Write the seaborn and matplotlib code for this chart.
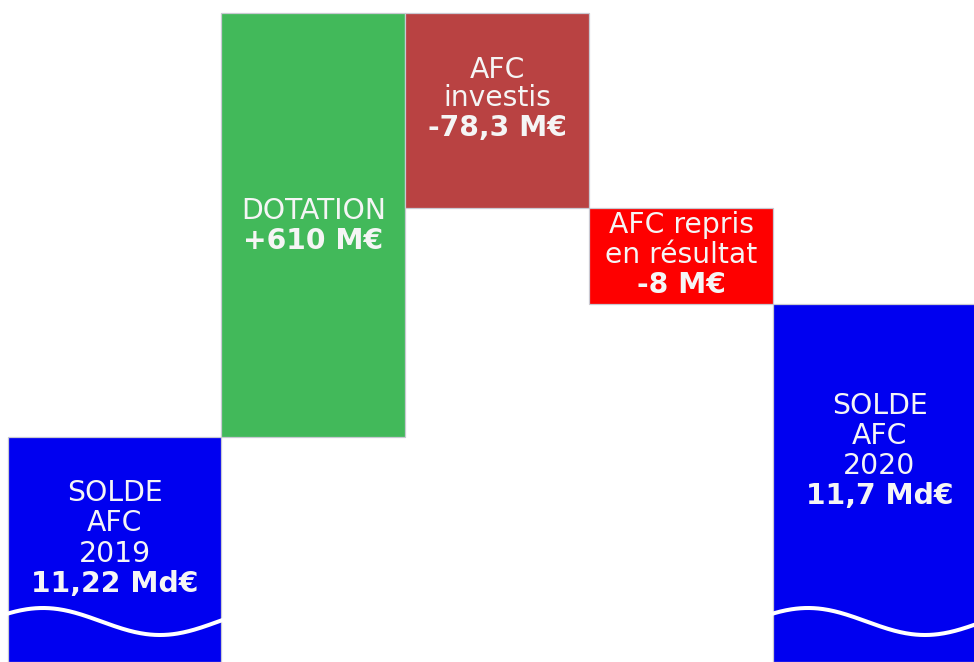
import numpy as np
import pandas as pd
import matplotlib
matplotlib.use("Agg")
import matplotlib.pyplot as plt
import matplotlib.transforms as mtransforms
import seaborn as sns

# AFC fund movements between 2019 and 2020, amounts in millions of euros
steps = ["SOLDE\nAFC\n2019", "DOTATION", "AFC\ninvestis", "AFC repris\nen résultat", "SOLDE\nAFC\n2020"]
opening_balance = 11220.0
movements = [610.0, -78.3, -8.0]
bar_colors = ["#0000F0", "#42B95A", "#B94242", "#FE0000", "#0000F0"]

# Running levels of the waterfall
levels = np.concatenate([[opening_balance], opening_balance + np.cumsum(movements)])
closing_balance = levels[-1]
bottoms = [0.0, *np.minimum(levels[:-1], levels[1:]), 0.0]
heights = [opening_balance, *np.abs(movements), closing_balance]


def fr(num):
    return num.replace(".", ",")


value_labels = (
    [fr(f"{opening_balance / 1000:.2f}") + " Md€"]
    + [fr(f"{m:+g}") + " M€" for m in movements]
    + [fr(f"{closing_balance / 1000:.1f}") + " Md€"]
)

# ---------------------------------------------------------------- figure
W, H = 974, 662
sns.set_theme(style="white")
plt.rcParams["font.family"] = ["DejaVu Sans"]
fig = plt.figure(figsize=(W / 100, H / 100), dpi=100)
fig.patch.set_facecolor("white")
ax = fig.add_axes([0, 0, 1, 1])

df = pd.DataFrame({"step": steps, "amount": heights})
sns.barplot(
    data=df, x="step", y="amount", bottom=bottoms, width=1.0,
    errorbar=None, color=bar_colors[0], edgecolor="#C9C9D2",
    linewidth=0.9, ax=ax,
)
for patch, c in zip(ax.patches, bar_colors):
    patch.set_facecolor(c)

# The two balances are drawn wider than the movement bars
first, last = ax.patches[0], ax.patches[-1]
first.set_x(-0.658)
first.set_width(0.5 + 0.658)
last.set_width(1.152)

# Broken, non-proportional value axis: piecewise-linear between the levels
knot_values = np.array([0.0, opening_balance, closing_balance, levels[2], levels.max()])
knot_rows = np.array([662.0, 437.0, 304.0, 208.0, 13.0])
slope = (knot_values[-1] - knot_values[-2]) / (knot_rows[-2] - knot_rows[-1])
top_value = knot_values[-1] + slope * knot_rows[-1]
knot_values = np.append(knot_values, top_value)
knot_frac = 1.0 - np.append(knot_rows, 0.0) / H


def forward(v):
    return np.interp(np.asarray(v, dtype=float), knot_values, knot_frac)


def inverse(f):
    return np.interp(np.asarray(f, dtype=float), knot_frac, knot_values)


ax.set_yscale("function", functions=(forward, inverse))
ax.set_ylim(0.0, top_value)
ax.set_xlim(-0.7038, 4.5897)
ax.set_axis_off()

# Wavy break marks on the two balance bars
blend = mtransforms.blended_transform_factory(ax.transData, ax.transAxes)
period = 234 / 184
for patch in (first, last):
    x0, x1 = patch.get_x(), patch.get_x() + patch.get_width()
    xs = np.linspace(x0 - 0.03, x1 + 0.03, 200)
    rows = 621.5 - 13.5 * np.cos(2 * np.pi * (xs - (x0 + 0.1875)) / period)
    ax.plot(xs, 1 - rows / H, color="white", lw=2.9,
            solid_capstyle="round", transform=blend, zorder=5)

# Labels inside the bars: regular name lines, bold value line
last_baseline = [592.0, 249.0, 135.5, 293.0, 503.5]
line_pitch = [30.4, 29.7, 29.0, 30.0, 30.0]
txt_color = "#F5F5F5"
fs = 20.3
for patch, name, val, base, pitch in zip(ax.patches, steps, value_labels,
                                         last_baseline, line_pitch):
    cx = patch.get_x() + patch.get_width() / 2
    lines = name.split("\n")
    n = len(lines)
    for k, line in enumerate(lines):
        row = base - (n - k) * pitch
        ax.text(cx, 1 - row / H, line, transform=blend, ha="center",
                va="baseline", color=txt_color, fontsize=fs, zorder=6)
    ax.text(cx, 1 - base / H, val, transform=blend, ha="center",
            va="baseline", color=txt_color, fontsize=fs, fontweight="bold",
            zorder=6)

fig.savefig("out.png", dpi=100, facecolor="white")
